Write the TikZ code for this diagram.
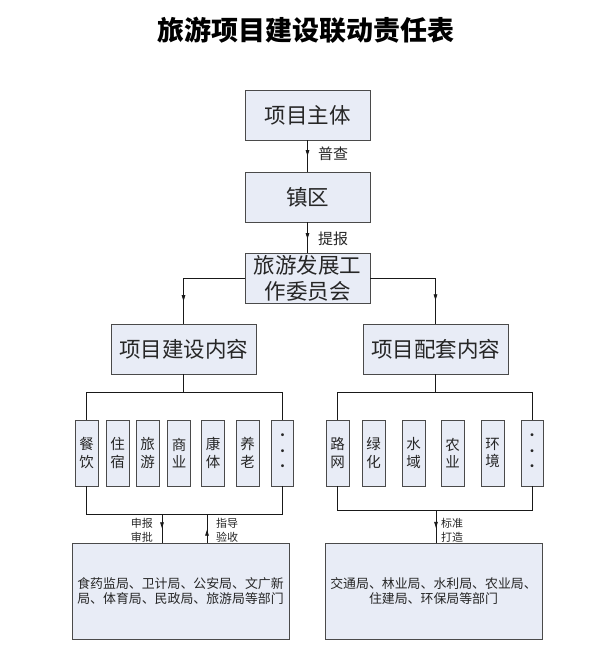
\documentclass[tikz,border=0pt]{standalone}
\usepackage{fontspec}
\setmainfont{Noto Sans CJK SC}
\usetikzlibrary{arrows.meta,decorations.markings}
\definecolor{boxfill}{HTML}{E8ECF6}
\definecolor{boxline}{HTML}{4A4A4A}
\tikzset{
  box/.style={draw=boxline, fill=boxfill, line width=0.9pt, inner sep=0pt, text=black!85, align=center},
  bigbox/.style={box, minimum width=125pt, minimum height=50pt, font=\fontsize{21.5}{26}\selectfont},
  midbox/.style={box, minimum width=145pt, minimum height=50pt, font=\fontsize{21.5}{26}\selectfont},
  smallbox/.style={box, minimum width=23pt, minimum height=66pt, font=\fontsize{14.5}{17.5}\selectfont},
  dotbox/.style={box, minimum width=22pt, minimum height=66pt, font=\fontsize{14}{15.5}\selectfont},
  deptbox/.style={box, minimum width=217pt, minimum height=96pt, font=\fontsize{12.9}{15}\selectfont},
  conn/.style={draw=black!90, line width=0.8pt},
  midarr/.style={conn, postaction={decorate}, decoration={markings, mark=at position #1 with {\arrow{Triangle[length=6pt,width=3.6pt]}}}},
  lab/.style={inner sep=0pt, text=black!85, font=\fontsize{15}{18}\selectfont},
  slab/.style={inner sep=0pt, text=black!85, align=center, font=\fontsize{11}{14}\selectfont},
}
\begin{document}
\begin{tikzpicture}[x=1pt,y=-1pt]
\useasboundingbox (0,0) rectangle (600,661);

% title
\node[inner sep=0pt, text=black, font=\fontsize{27}{30}\selectfont\bfseries] (title) at (306,30) {旅游项目建设联动责任表};

% main chain
\node[bigbox] (zt) at (307.5,115) {项目主体};
\node[bigbox] (zq) at (307.5,197) {镇区};
\node[bigbox] (wy) at (307.5,278) {旅游发展工\\作委员会};

\node[midbox] (js) at (183.5,349) {项目建设内容};
\node[midbox] (pt) at (435.5,349) {项目配套内容};

\draw[midarr=0.5] (zt) -- (zq);
\draw[midarr=0.55] (zq) -- (wy);
\node[lab, anchor=west] (l1) at (318,154) {普查};
\node[lab, anchor=west] (l2) at (318,239) {提报};

\draw[midarr=0.79] (wy.west) -| (js.north);
\draw[midarr=0.79] (wy.east) -| (pt.north);

% left group of small boxes
\node[smallbox] (a1) at (86.5,453) {餐\\饮};
\node[smallbox] (a2) at (117.5,453) {住\\宿};
\node[smallbox] (a3) at (147.5,453) {旅\\游};
\node[smallbox] (a4) at (179,453) {商\\业};
\node[smallbox] (a5) at (213,453) {康\\体};
\node[smallbox] (a6) at (247.5,453) {养\\老};
\node[dotbox] (a7) at (282.5,453) {·\\·\\·};

% right group of small boxes
\node[smallbox] (b1) at (337.5,453) {路\\网};
\node[smallbox] (b2) at (373.5,453) {绿\\化};
\node[smallbox] (b3) at (413.5,453) {水\\域};
\node[smallbox] (b4) at (452.5,453) {农\\业};
\node[smallbox] (b5) at (492.5,453) {环\\境};
\node[dotbox] (b6) at (532,453) {·\\·\\·};

% bars
\coordinate (ltop) at (183.5,393);
\coordinate (rtop) at (435.5,393);
\draw[conn] (js.south) -- (ltop);
\draw[conn] (pt.south) -- (rtop);
\draw[conn] (a1.north) -- ++(0,-27) -| (a7.north);
\draw[conn] (b1.north) -- ++(0,-27) -| (b6.north);
\draw[conn] (a1.south) -- ++(0,28) -| (a7.south);
\draw[conn] (b1.south) -- ++(0,24) -| (b6.south);

% department boxes
\node[deptbox] (bl) at (180.5,591) {食药监局、卫计局、公安局、文广新\\局、体育局、民政局、旅游局等部门};
\node[deptbox] (br) at (433.5,591) {交通局、林业局、水利局、农业局、\\住建局、环保局等部门};

\coordinate (c1) at (162,514);
\coordinate (c2) at (207,514);
\coordinate (c3) at (436,510);
\draw[midarr=0.5] (c1) -- (c1 |- bl.north);
\draw[midarr=0.45] (c2 |- bl.north) -- (c2);
\draw[midarr=0.55] (c3) -- (c3 |- br.north);

\node[slab, anchor=east] (s1) at (153,530) {申报\\审批};
\node[slab, anchor=west] (s2) at (216,530) {指导\\验收};
\node[slab, anchor=west] (s3) at (441,530) {标准\\打造};
\end{tikzpicture}
\end{document}
